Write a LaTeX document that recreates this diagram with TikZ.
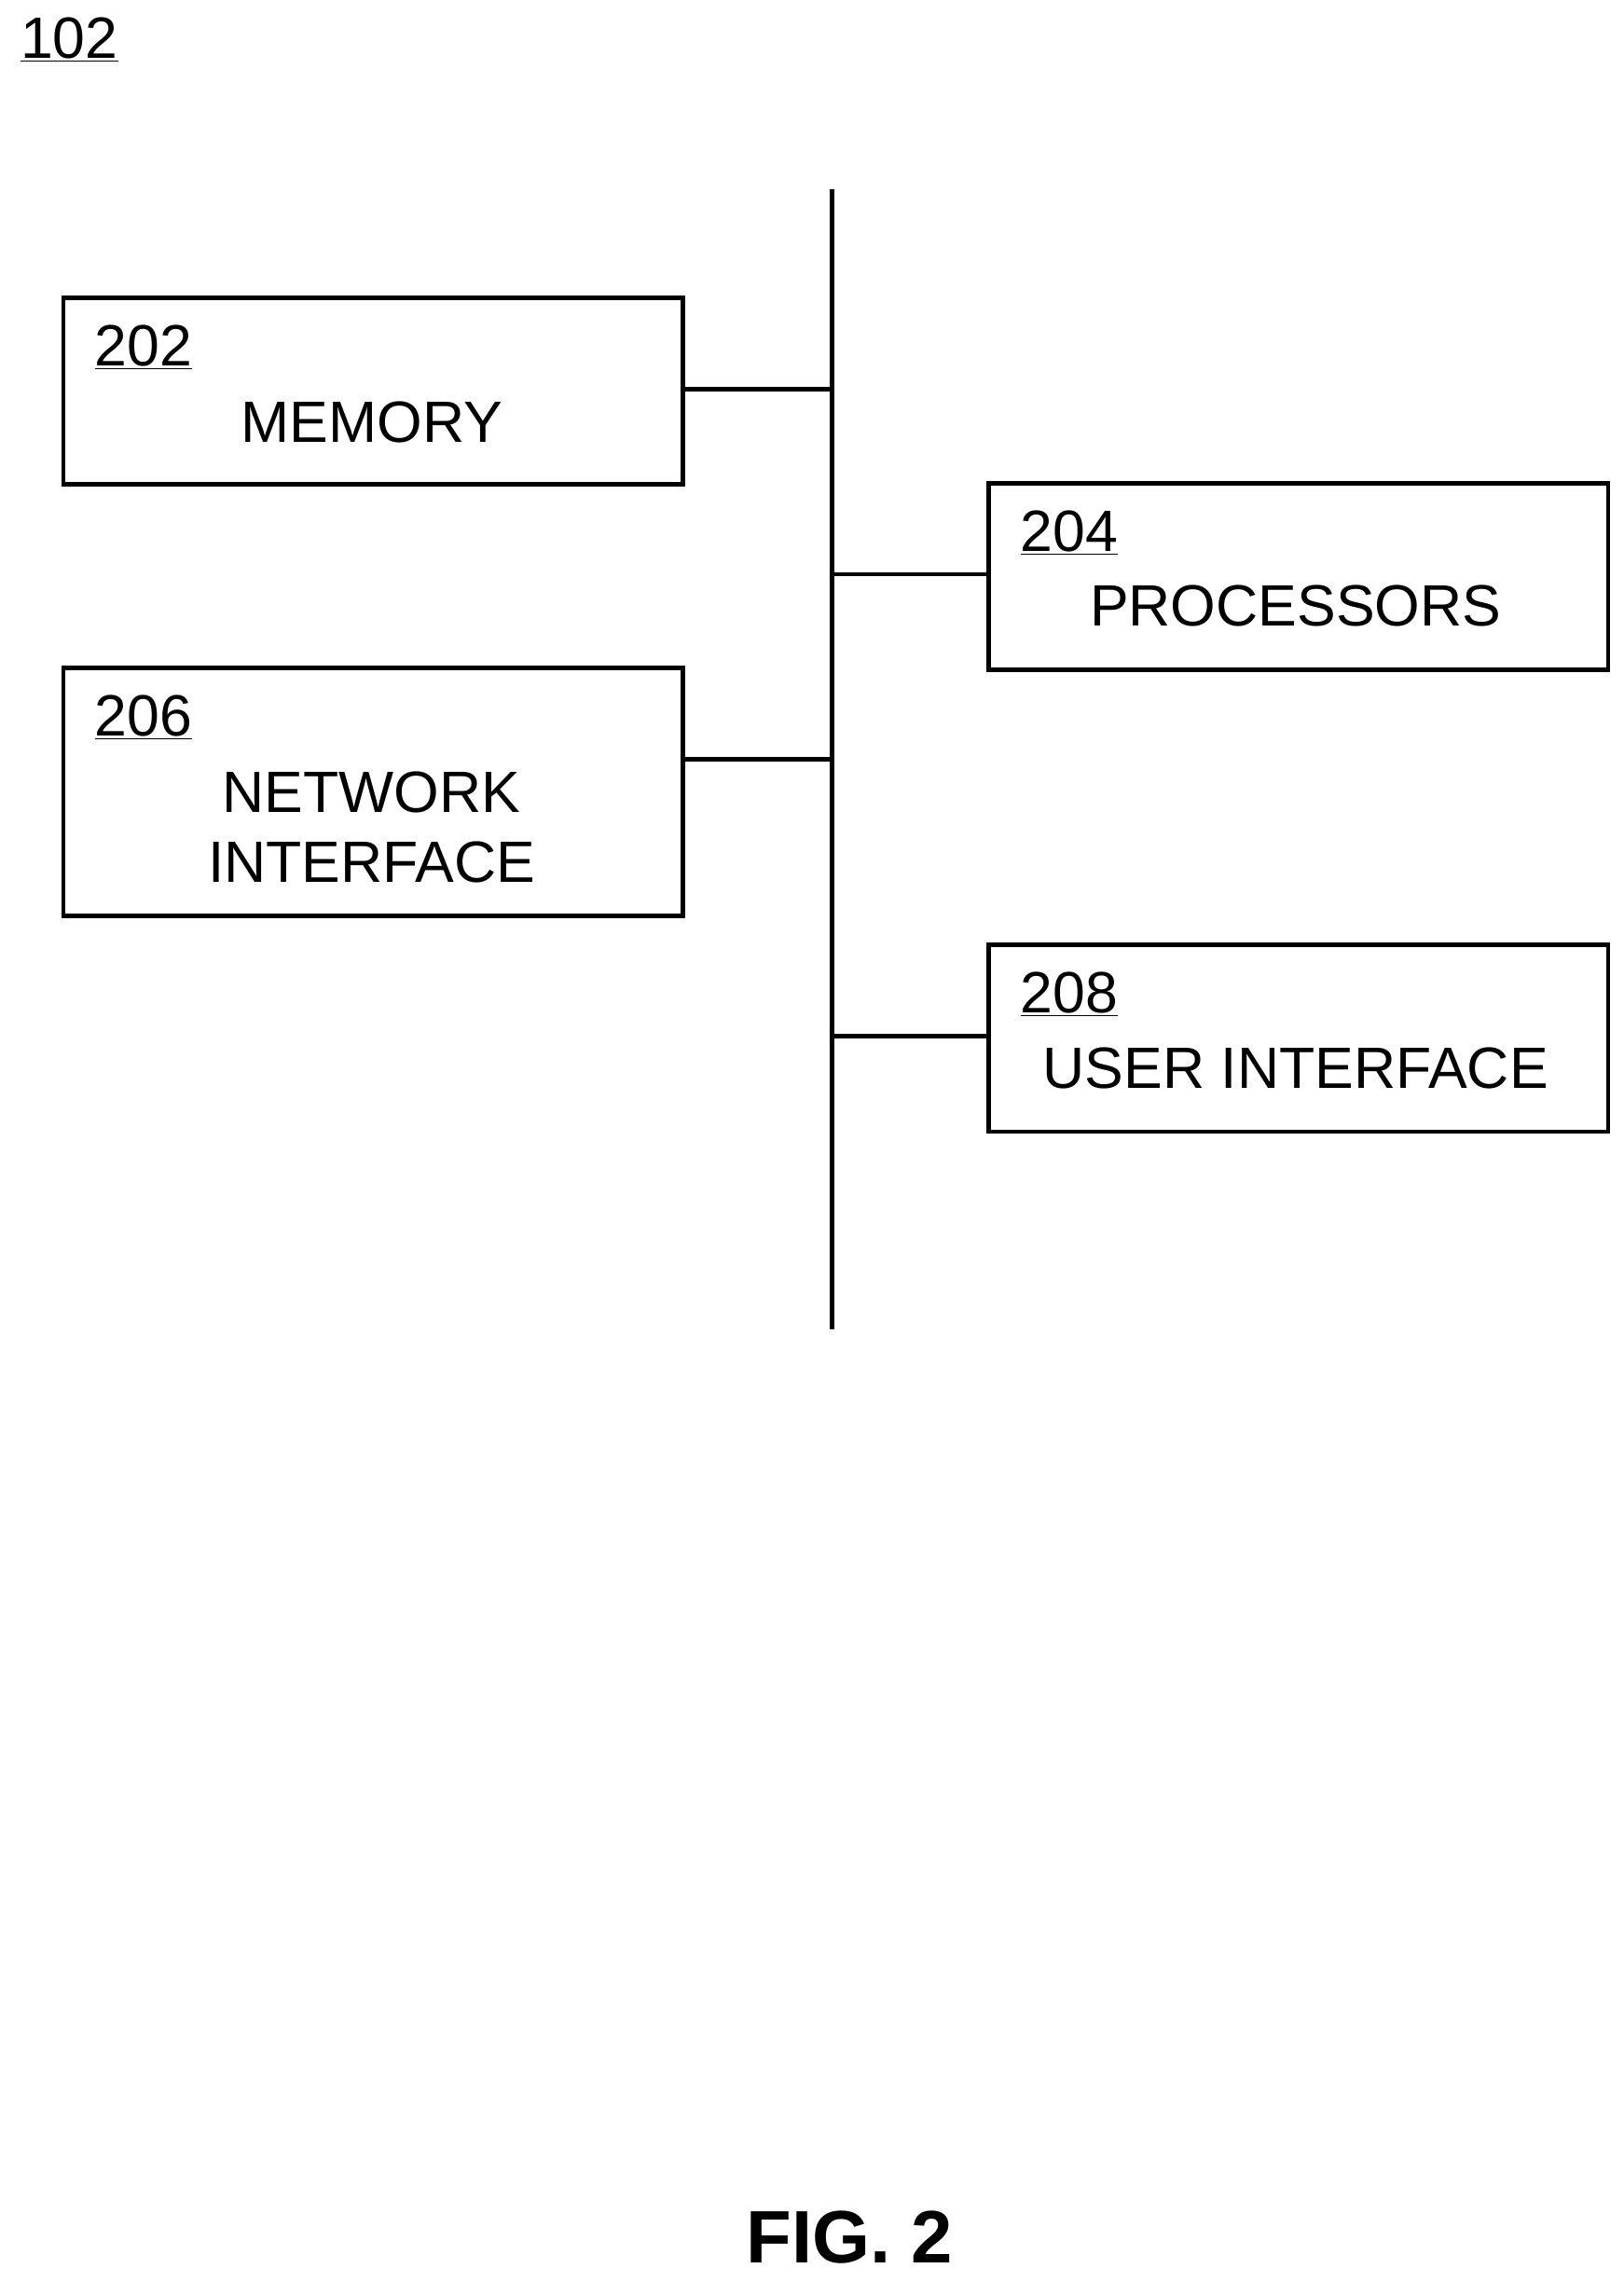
\documentclass[tikz,border=0pt]{standalone}
\usepackage{fontspec}
\setmainfont{Liberation Sans}
\usetikzlibrary{positioning}
\tikzset{unit box/.style={draw, line width=3pt, minimum width=425pt, inner sep=0pt},
  ref label/.style={anchor=north west, inner sep=0pt, font=\fontsize{40}{40}\selectfont},
  box text/.style={font=\fontsize{40}{48}\selectfont, align=center, inner sep=0pt},
  bus/.style={line width=3pt}
}
\begin{document}
\begin{tikzpicture}[x=1pt, y=-1pt]
  \useasboundingbox (0,0) rectangle (1114,1566);
  % Figure reference
  \node[ref label] (fig ref) at (14,12) {\underline{102}};
  % Bus
  \coordinate (bus top) at (571,130);
  \coordinate (bus bot) at (571,912);
  \draw[bus] (bus top) -- (bus bot);
  % Units
  \node[unit box, minimum height=128pt, anchor=north west] (memory) at (42,203) {};
  \node[unit box, minimum height=128pt, anchor=north west] (proc) at (677,330) {};
  \node[unit box, minimum height=170pt, anchor=north west] (net) at (42,457) {};
  \node[unit box, minimum height=128pt, anchor=north west] (ui) at (677,647) {};
  % Labels
  \node[ref label] at ([xshift=23pt, yshift=-20pt]memory.north west) {\underline{202}};
  \node[box text] at (255,290) {MEMORY};
  \node[ref label] at ([xshift=23pt, yshift=-20pt]proc.north west) {\underline{204}};
  \node[box text] at (889,416) {PROCESSORS};
  \node[ref label] at ([xshift=23pt, yshift=-20pt]net.north west) {\underline{206}};
  \node[box text] at (255,568) {NETWORK\\INTERFACE};
  \node[ref label] at ([xshift=23pt, yshift=-20pt]ui.north west) {\underline{208}};
  \node[box text] at (889,733) {USER INTERFACE};
  % Connections
  \coordinate (tap1) at (571,267);
  \coordinate (tap2) at (571,394);
  \coordinate (tap3) at (571,521);
  \coordinate (tap4) at (571,711);
  \draw[bus] (memory.east |- tap1) -- (tap1);
  \draw[bus] (tap2) -- (proc.west |- tap2);
  \draw[bus] (net.east |- tap3) -- (tap3);
  \draw[bus] (tap4) -- (ui.west |- tap4);
  % Caption
  \node[font=\fontsize{51}{51}\selectfont\bfseries] (caption) at (583,1535) {FIG. 2};
\end{tikzpicture}
\end{document}
